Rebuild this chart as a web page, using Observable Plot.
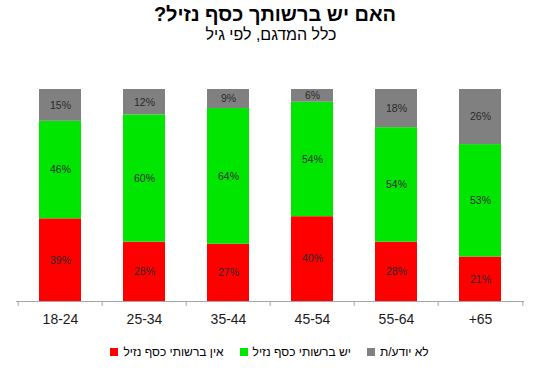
<!DOCTYPE html>
<html>
<head>
<meta charset="utf-8">
<script src="https://cdn.jsdelivr.net/npm/d3@7"></script>
<script src="https://cdn.jsdelivr.net/npm/@observablehq/plot@0.6"></script>
<style>
  body { margin: 0; background: #fff; font-family: "Liberation Sans", Arial, sans-serif; }
  #wrap { width: 539px; height: 380px; position: relative; }
  #title { position: absolute; top: 2px; left: 0; width: 550px; text-align: center; font-size: 20px; font-weight: bold; color: #000; direction: rtl; line-height: 24px; }
  #subtitle { position: absolute; top: 25px; left: 0; width: 542px; text-align: center; font-size: 16px; color: #000; direction: rtl; line-height: 20px; }
  #chart { position: absolute; top: 55px; left: 0; }
  #legend { position: absolute; top: 345px; left: 0; width: 539px; display: flex; justify-content: center; align-items: center; font-size: 12px; color: #000; }
  .item { display: flex; align-items: center; margin: 0 8px; }
  .sw { width: 8px; height: 8px; margin-right: 5px; }
  .lt { direction: rtl; }
</style>
</head>
<body>
<div id="wrap">
  <div id="title">האם יש ברשותך כסף נזיל?</div>
  <div id="subtitle">כלל המדגם, לפי גיל</div>
  <div id="chart"></div>
  <div id="legend"></div>
</div>
<script>
const categories = ["18-24", "25-34", "35-44", "45-54", "55-64", "+65"];
const seriesNames = ["אין ברשותי כסף נזיל", "יש ברשותי כסף נזיל", "לא יודע/ת"];
const seriesColors = ["#ff0000", "#00e600", "#808080"];
const noMoney = [39, 28, 27, 40, 28, 21];
const hasMoney = [46, 60, 64, 54, 54, 53];
const dontKnow = [15, 12, 9, 6, 18, 26];

const seriesValues = [noMoney, hasMoney, dontKnow];
const data = [];
seriesValues.forEach((vals, s) => {
  vals.forEach((v, i) => data.push({cat: categories[i], series: seriesNames[s], value: v}));
});

const width = 539, height = 285;
const marginLeft = 16, marginRight = 15, marginTop = 34, marginBottom = 39;
const step = (width - marginLeft - marginRight) / categories.length;

const chart = Plot.plot({
  width, height, marginLeft, marginRight, marginTop, marginBottom,
  style: { fontFamily: "'Liberation Sans', Arial, sans-serif", background: "#fff" },
  x: { domain: categories, paddingInner: 0.5, paddingOuter: 0.25, label: null },
  y: { domain: [0, 100], axis: null },
  color: { domain: seriesNames, range: seriesColors },
  marks: [
    Plot.barY(data, { x: "cat", y: "value", fill: "series", order: seriesNames }),
    Plot.text(data, Plot.stackY({ x: "cat", y: "value", z: "series", order: seriesNames,
      text: d => d.value + "%", fontSize: 10.5, fill: "#2a2a2a" })),
    Plot.ruleY([0], { stroke: "#a6a6a6", strokeWidth: 1 }),
    Plot.ruleX(categories, { x: d => d, y1: 0, y2: 0, insetBottom: -5, dx: -step / 2, stroke: "#a6a6a6" }),
    Plot.ruleX(categories.slice(-1), { x: d => d, y1: 0, y2: 0, insetBottom: -5, dx: step / 2, stroke: "#a6a6a6" }),
    Plot.axisX({ tickSize: 0, tickPadding: 13, fontSize: 14, fill: "#1a1a1a" })
  ]
});
document.getElementById("chart").appendChild(chart);

const legend = document.getElementById("legend");
seriesNames.forEach((name, i) => {
  const item = document.createElement("div");
  item.className = "item";
  const sw = document.createElement("span");
  sw.className = "sw";
  sw.style.background = seriesColors[i];
  const t = document.createElement("span");
  t.className = "lt";
  t.textContent = name;
  item.appendChild(sw);
  item.appendChild(t);
  legend.appendChild(item);
});
</script>
</body>
</html>
